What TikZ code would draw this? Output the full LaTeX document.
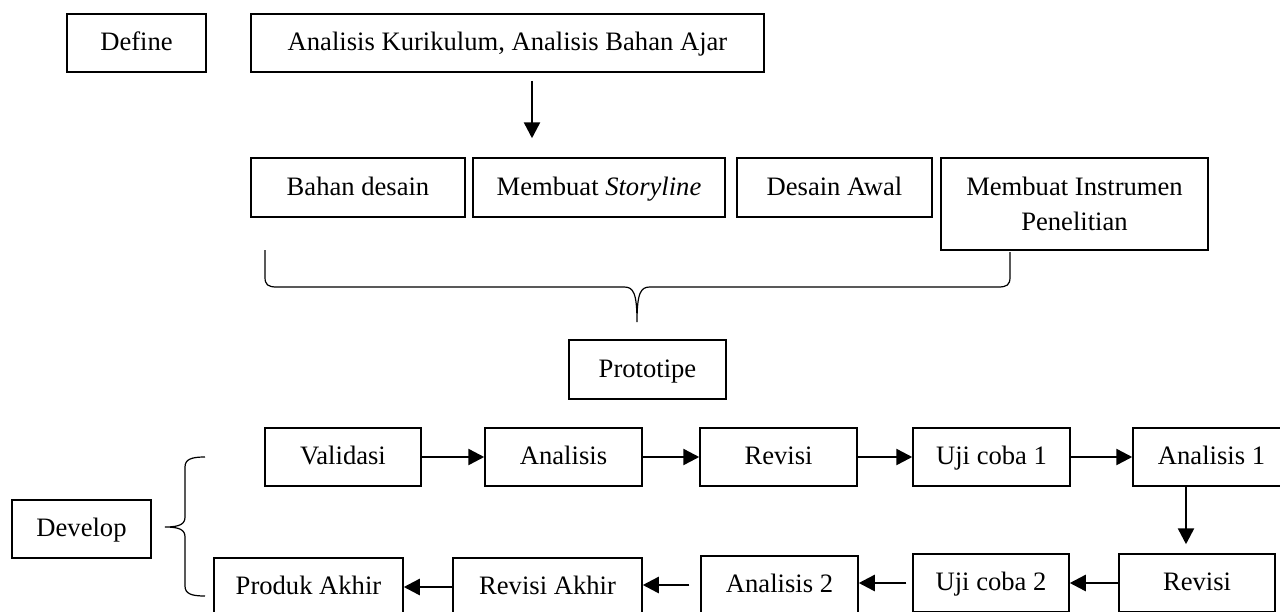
\documentclass[tikz,border=0pt]{standalone}
\usepackage{fontspec}
\setmainfont{Liberation Serif}
\usetikzlibrary{arrows.meta}
\newcommand\bx[7][]{\node[box, #1, minimum width={(#5-#3)*0.5pt}, minimum height={(#6-#4)*0.5pt}] (#2) at ({(#3+#5)/2},{(#4+#6)/2}) {#7};}
\begin{document}
\begin{tikzpicture}[x=0.5pt,y=-0.5pt,
  box/.style={draw, line width=0.75pt, inner sep=0pt, align=center, text height=9pt, text depth=1.2pt, font=\fontsize{13.3}{17.5}\selectfont},
  twoline/.style={text height={}, text depth={}},
  arr/.style={line width=1.25pt, -{Triangle[length=8pt,width=8pt]}},
  brace/.style={line width=0.6pt}]
\useasboundingbox (0,0) rectangle (1280,611);
% Define phase
\bx{define}{67}{14}{206}{72}{Define}
\bx{ak}{251}{14}{764}{72}{Analisis Kurikulum, Analisis Bahan Ajar}
\bx{bahan}{251}{158}{465}{217}{Bahan desain}
\bx{story}{473}{158}{725}{217}{Membuat \textit{Storyline}}
\bx{desain}{737}{158}{932}{217}{Desain Awal}
\bx[twoline]{instr}{941}{158}{1208}{250}{Membuat Instrumen\\Penelitian}
\bx{proto}{569}{340}{726}{399}{Prototipe}
% Develop phase
\bx{develop}{12}{500}{151}{558}{Develop}
\bx{valid}{265}{428}{421}{486}{Validasi}
\bx{anal}{485}{428}{642}{486}{Analisis}
\bx{rev1}{700}{428}{857}{486}{Revisi}
\bx{uji1}{913}{428}{1070}{486}{Uji coba 1}
\bx{anal1}{1133}{428}{1290}{486}{Analisis 1}
\bx{rev2}{1119}{554}{1275}{612}{Revisi}
\bx{uji2}{913}{554}{1069}{612}{Uji coba 2}
\bx{anal2}{701}{556}{858}{614}{Analisis 2}
\bx{revak}{453}{558}{642}{616}{Revisi Akhir}
\bx{produk}{214}{558}{403}{616}{Produk Akhir}
% helper coordinates
\coordinate (ax) at (532,0);
\coordinate (dx) at (1186,0);
% arrows
\draw[arr, shorten <=4pt, shorten >=9.5pt] (ak.south -| ax) -- (bahan.north -| ax);
\draw[arr] (valid) -- (anal);
\draw[arr] (anal) -- (rev1);
\draw[arr] (rev1) -- (uji1);
\draw[arr] (uji1) -- (anal1);
\draw[arr, shorten >=4.5pt] (anal1.south -| dx) -- (rev2.north -| dx);
\draw[arr] (rev2.west) -- (rev2.west -| uji2.east);
\draw[arr, shorten <=3pt] (uji2.west) -- (uji2.west -| anal2.east);
\draw[arr, shorten <=5.5pt] (anal2.west) -- (anal2.west -| revak.east);
\draw[arr] (revak.west) -- (revak.west -| produk.east);
% braces
\draw[brace] (265,250) -- (265,277) .. controls (265,285) and (268,287) .. (277,287)
  -- (624,287) .. controls (633,287) and (637,292) .. (637,322)
  .. controls (637,292) and (641,287) .. (650,287)
  -- (998,287) .. controls (1007,287) and (1010,285) .. (1010,277) -- (1010,252);
\draw[brace] (205,457) .. controls (192,457) and (185,459) .. (185,467) -- (185,517)
  .. controls (185,524) and (180,527) .. (165,527)
  .. controls (180,527) and (185,530) .. (185,537) -- (185,586)
  .. controls (185,594) and (192,596) .. (205,596);
\end{tikzpicture}
\end{document}
